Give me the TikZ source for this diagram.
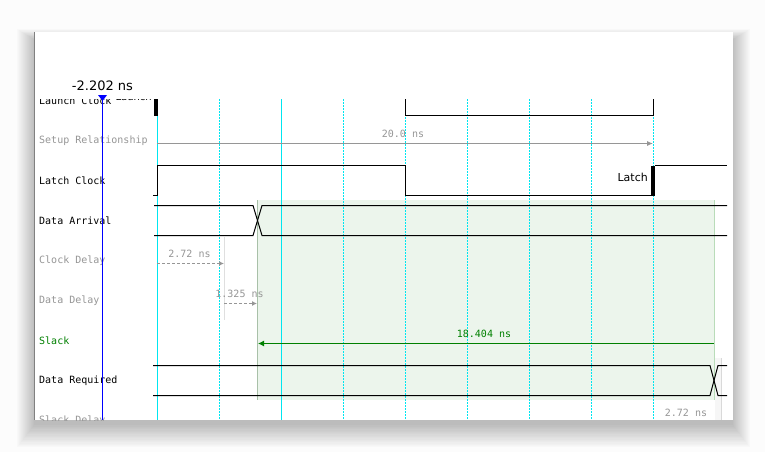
\documentclass[tikz,border=0pt]{standalone}
\usepackage{fontspec}
\usepackage{xcolor}
\usepackage{tikz}
\usetikzlibrary{arrows.meta,calc}
\newfontfamily\lblfont{DejaVu Sans Mono}
\newfontfamily\hdrfont{DejaVu Sans}
\definecolor{tickcyan}{RGB}{0,230,240}
\definecolor{slackgreen}{RGB}{0,128,0}
\definecolor{regiongreen}{RGB}{236,245,236}
\definecolor{regionedge}{RGB}{185,220,185}
\definecolor{dimgray}{RGB}{150,150,150}
\definecolor{cursorblue}{RGB}{0,0,255}
\definecolor{pagebg}{RGB}{252,252,252}

\begin{document}
\begin{tikzpicture}[x=1pt, y=-1pt, >=latex,
  rowlabel/.style={anchor=west, inner sep=0pt, font={\lblfont\fontsize{10}{12}\selectfont}},
  valuelabel/.style={above=5pt, inner sep=0pt, font={\lblfont\fontsize{10}{12}\selectfont}},
  gridline/.style={tickcyan, line width=1.2pt, dash pattern=on 1.5pt off 1.5pt},
  wave/.style={black, line width=1pt},
  edgebar/.style={black, line width=4pt}]

% 1. Page, window shadow and window
\useasboundingbox (0,0) rectangle (765,452);
\fill[pagebg] (0,0) rectangle (765,452);
\foreach \s in {18,...,1}{
  \pgfmathsetmacro\shade{1.4*(19-\s)}
  \fill[black!\shade!pagebg] (35-\s,40-0.6*\s) rectangle (732+\s,424+1.3*\s);
}
\fill[white] (34,32) rectangle (733,420);
\draw[gray, line width=1.2pt] (34.5,32) -- (34.5,420);

% 2. Slack region (behind the grid)
\fill[regiongreen] (258,200) rectangle (714,400);
\draw[regionedge!70!gray] (257.5,200) -- (257.5,400);
\draw[regionedge] (714.5,200) -- (714.5,400);
\fill[gray!7] (715,358) rectangle (721,420);
\draw[gray!30] (721.5,358) -- (721.5,420);

% 3. Grid lines
\foreach \i in {2,...,8}
  \draw[gridline] (157.5+62*\i,99) -- (157.5+62*\i,420);
\draw[gridline] (219.5,99) -- (219.5,420);
\draw[tickcyan, line width=1.2pt] (157.5,99) -- (157.5,420);
\draw[tickcyan, line width=1.2pt] (281.5,99) -- (281.5,420);

\begin{scope}
\clip (35,99) rectangle (733,420);

% 4. Row labels
\node[rowlabel] (lbl-launch) at (39,101) {Launch Clock};
\node[anchor=east, inner sep=0pt, font={\hdrfont\fontsize{10}{12}\selectfont}] (lbl-launchedge) at (152,97) {Launch};
\node[rowlabel, dimgray] (lbl-setup) at (39,141) {Setup Relationship};
\node[rowlabel] (lbl-latch) at (39,181) {Latch Clock};
\node[rowlabel] (lbl-arrival) at (39,221) {Data Arrival};
\node[rowlabel, dimgray] (lbl-clkdelay) at (39,261) {Clock Delay};
\node[rowlabel, dimgray] (lbl-datadelay) at (39,301) {Data Delay};
\node[rowlabel, slackgreen] (lbl-slack) at (39,341) {Slack};
\node[rowlabel] (lbl-required) at (39,381) {Data Required};
\node[rowlabel, dimgray] (lbl-slkdelay) at (39,421) {Slack Delay};

% 5. Launch clock
\draw[edgebar] (156,99) -- (156,115.5);
\draw[wave] (405.5,99) -- (405.5,115.5) -- (653.5,115.5) -- (653.5,99);

% 6. Setup relationship
\coordinate (setupStart) at (157,143.5);
\coordinate (setupEnd) at (653,143.5);
\draw[dimgray, line width=1pt, -{Latex[length=6pt,width=5pt]}] (setupStart) -- (setupEnd)
  node[valuelabel, dimgray, midway, xshift=-2pt] (setupVal) {20.0 ns};

% 7. Latch clock
\draw[wave] (153,195.5) -- (157.5,195.5) -- (157.5,165.5) -- (405.5,165.5) -- (405.5,195.5) -- (651,195.5);
\draw[edgebar] (653,165.5) -- (653,195.5);
\draw[wave] (655,165.5) -- (727,165.5);
\node[anchor=east, inner sep=0pt, font={\hdrfont\fontsize{11}{13}\selectfont}] (latchTag) at (648,177) {Latch};

% 8. Data arrival
\draw[wave] (154,205.5) -- (253,205.5) -- (262,235.5) -- (727,235.5);
\draw[wave] (154,235.5) -- (253,235.5) -- (262,205.5) -- (727,205.5);

% 9. Clock delay and data delay
\draw[gray!25] (224.5,237) -- (224.5,320);
\coordinate (clkStart) at (157,263.5);
\coordinate (clkEnd) at (224,263.5);
\draw[dimgray, line width=1pt, dash pattern=on 3pt off 2pt, -{Latex[length=5pt,width=5pt]}] (clkStart) -- (clkEnd)
  node[valuelabel, dimgray, midway, xshift=-1pt] (clkVal) {2.72 ns};
\coordinate (dataStart) at (224,303.5);
\coordinate (dataEnd) at (257,303.5);
\draw[dimgray, line width=1pt, dash pattern=on 3pt off 2pt, -{Latex[length=5pt,width=5pt]}] (dataStart) -- (dataEnd)
  node[valuelabel, dimgray, midway, xshift=-1pt] (dataVal) {1.325 ns};

% 10. Slack
\coordinate (slackHead) at (258,343.5);
\coordinate (slackTail) at (714,343.5);
\draw[slackgreen, line width=1pt, {Latex[length=6pt,width=6pt]}-] (slackHead) -- (slackTail)
  node[valuelabel, slackgreen, midway, xshift=-2pt] (slackVal) {18.404 ns};

% 11. Data required
\draw[wave] (153,365.5) -- (710,365.5) -- (718,395.5) -- (727,395.5);
\draw[wave] (153,395.5) -- (710,395.5) -- (718,365.5) -- (727,365.5);
\node[inner sep=0pt, dimgray, font={\lblfont\fontsize{10}{12}\selectfont}] (slkVal) at (686,413) {2.72 ns};
\end{scope}

% 12. Cursor
\draw[cursorblue, line width=1pt] (102.5,97) -- (102.5,420);
\fill[cursorblue] (98,95) -- (107,95) -- (102.5,101) -- cycle;
\node[inner sep=0pt, font={\hdrfont\fontsize{13}{15}\selectfont}] (cursorVal) at (102.5,86) {-2.202 ns};

\end{tikzpicture}
\end{document}
